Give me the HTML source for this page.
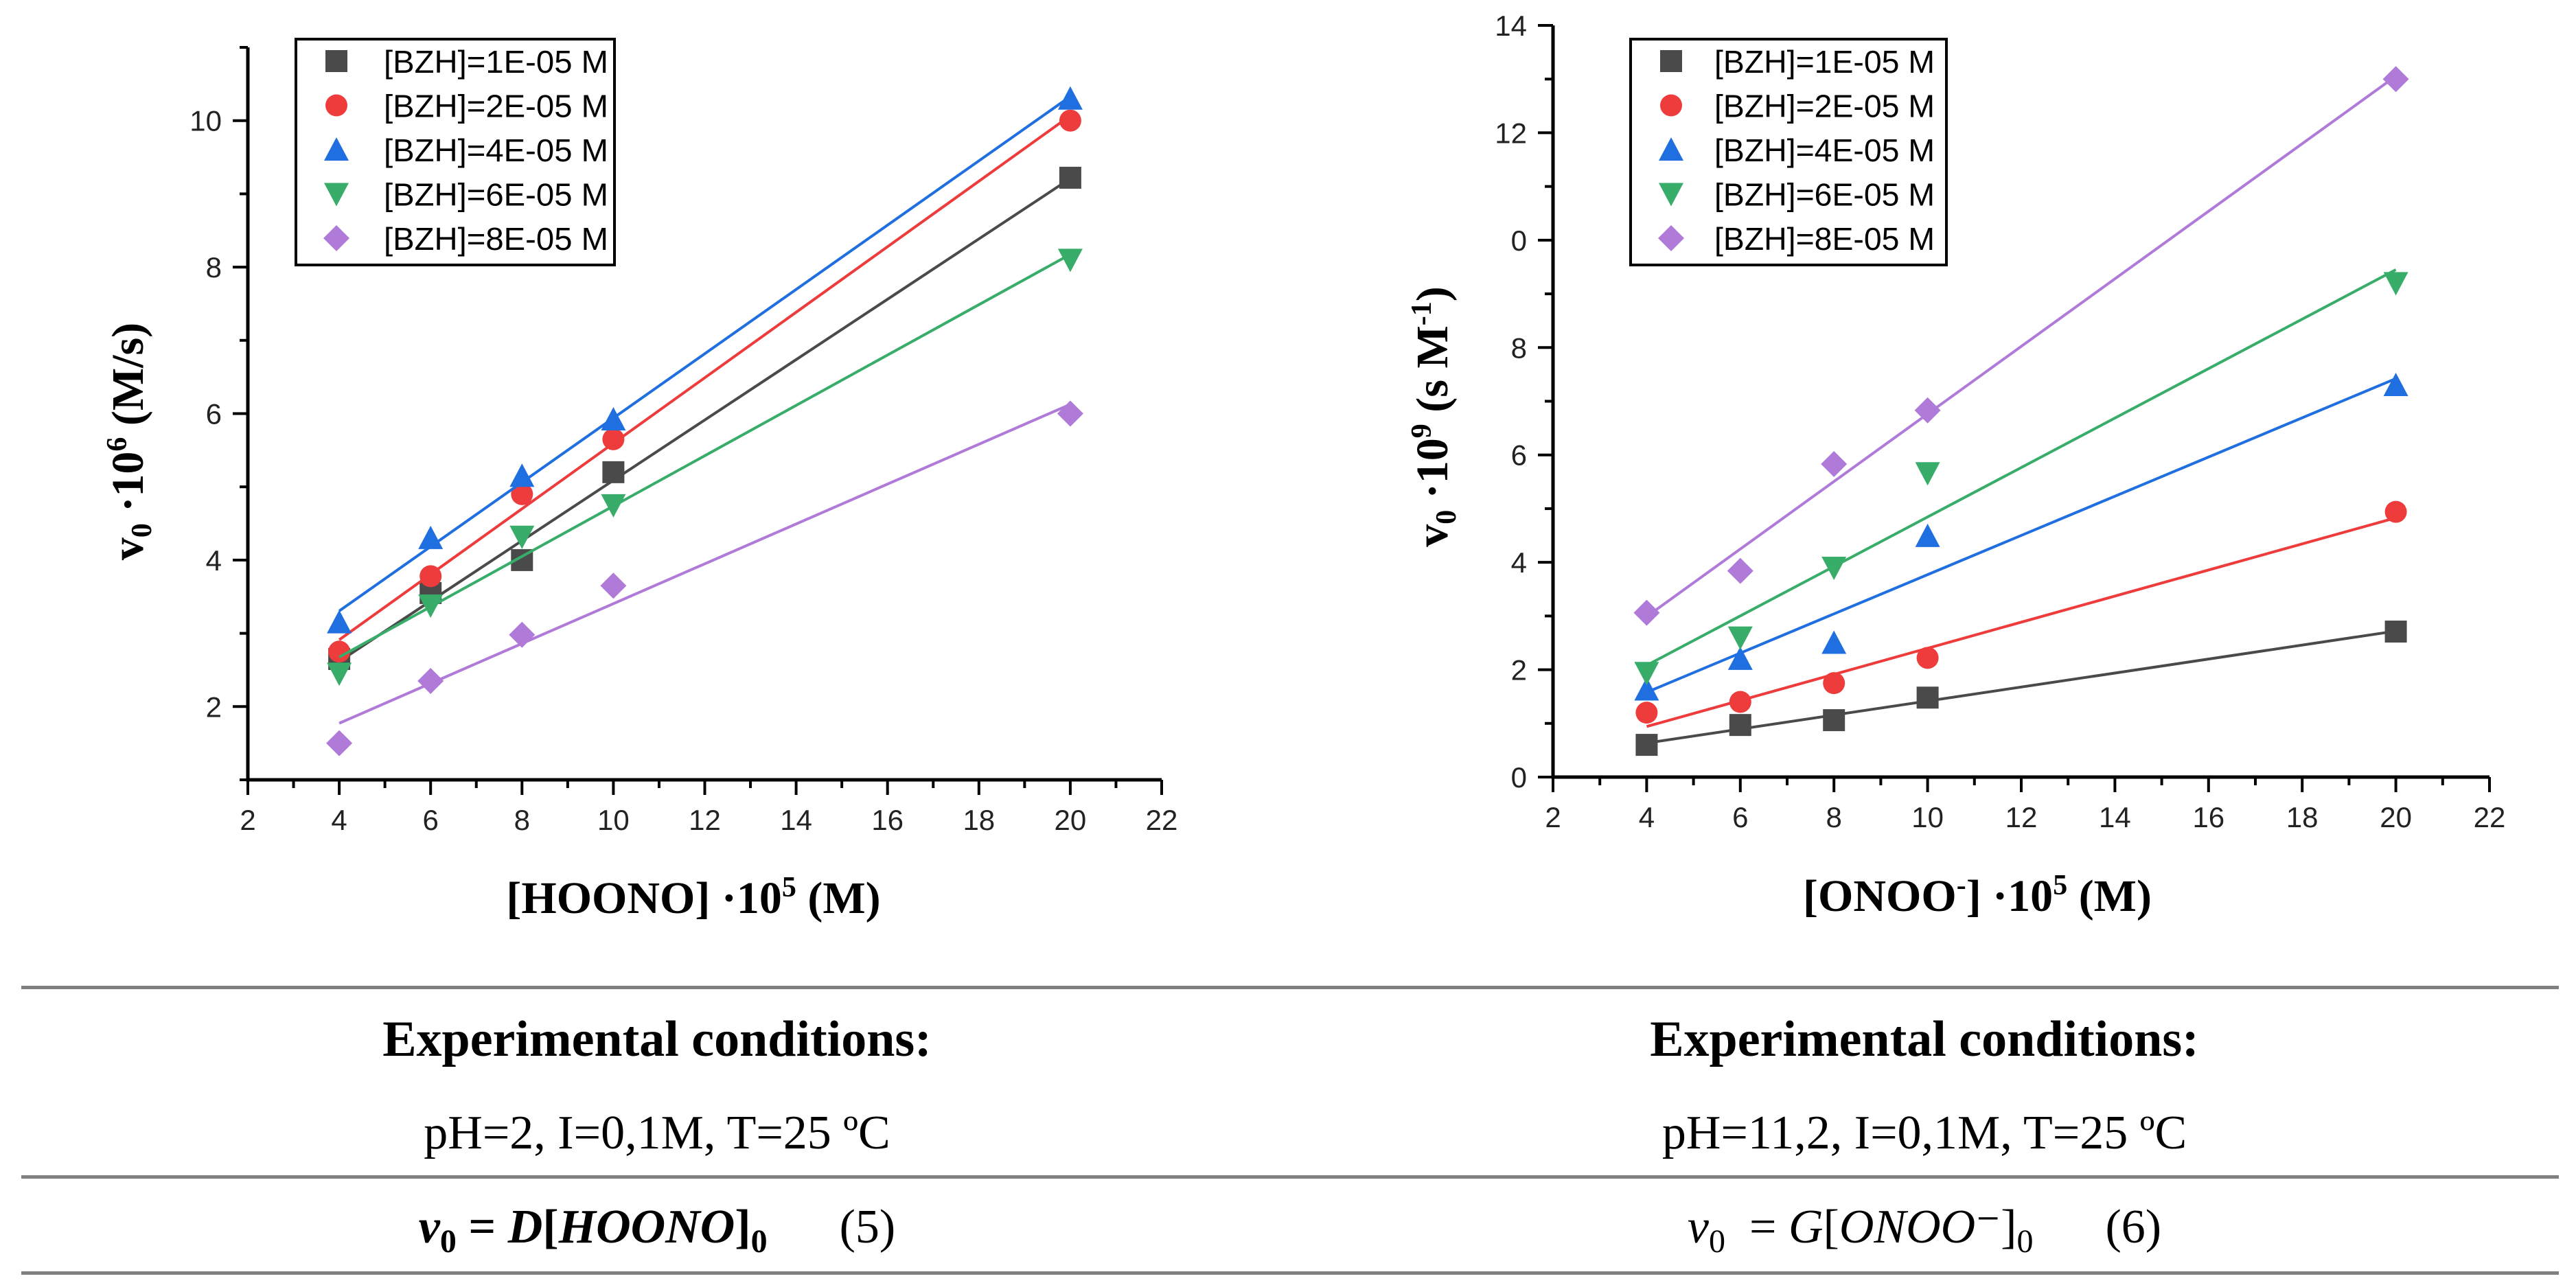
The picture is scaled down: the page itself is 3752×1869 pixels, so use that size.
<!DOCTYPE html>
<html><head><meta charset="utf-8"><style>
html,body{margin:0;padding:0;background:#fff;}
svg{display:block;}
.tick{font-family:"Liberation Sans",sans-serif;font-size:42px;fill:#222;}
.leg{font-family:"Liberation Sans",sans-serif;font-size:46px;fill:#000;}
.ttl{font-family:"Liberation Serif",serif;font-weight:bold;font-size:66px;fill:#000;}
.tab{font-family:"Liberation Serif",serif;fill:#000;}
.pre{white-space:pre;}
</style></head><body>
<svg id="fig" width="3752" height="1869" viewBox="0 0 3752 1869" xmlns="http://www.w3.org/2000/svg">
<g id="left"></g>
<g id="right"></g>
<g>
<rect x="31" y="1436" width="3696" height="5" fill="#808080"/>
<rect x="31" y="1712" width="3696" height="5" fill="#808080"/>
<rect x="31" y="1852" width="3696" height="5" fill="#808080"/>
<text class="tab" x="957" y="1538" font-size="74" font-weight="bold" text-anchor="middle">Experimental conditions:</text>
<text class="tab" x="2803" y="1538" font-size="74" font-weight="bold" text-anchor="middle">Experimental conditions:</text>
<text class="tab" x="957" y="1673" font-size="70" text-anchor="middle">pH=2, I=0,1M, T=25 ºC</text>
<text class="tab" x="2803" y="1673" font-size="70" text-anchor="middle">pH=11,2, I=0,1M, T=25 ºC</text>
<text class="tab pre" x="957" y="1810" font-size="70" text-anchor="middle"><tspan font-weight="bold" font-style="italic">v</tspan><tspan font-weight="bold" font-size="48" dy="14">0</tspan><tspan dy="-14" font-weight="bold"> = </tspan><tspan font-weight="bold" font-style="italic">D</tspan><tspan font-weight="bold">[</tspan><tspan font-weight="bold" font-style="italic">HOONO</tspan><tspan font-weight="bold">]</tspan><tspan font-weight="bold" font-size="48" dy="14">0</tspan><tspan dy="-14">      (5)</tspan></text>
<text class="tab pre" x="2803" y="1810" font-size="70" text-anchor="middle"><tspan font-style="italic">v</tspan><tspan font-size="48" dy="14">0</tspan><tspan dy="-14">  = </tspan><tspan font-style="italic">G</tspan><tspan>[</tspan><tspan font-style="italic">ONOO</tspan><tspan>⁻]</tspan><tspan font-size="48" dy="14">0</tspan><tspan dy="-14">      (6)</tspan></text>
</g>
</svg>
<script>
const xVals = [4, 6, 8, 10, 20];
const seriesNames = ["[BZH]=1E-05 M","[BZH]=2E-05 M","[BZH]=4E-05 M","[BZH]=6E-05 M","[BZH]=8E-05 M"];
const leftBlack  = [2.65, 3.55, 4.0, 5.2, 9.22];
const leftRed    = [2.75, 3.78, 4.9, 5.65, 10.0];
const leftBlue   = [3.15, 4.3, 5.15, 5.92, 10.3];
const leftGreen  = [2.45, 3.38, 4.32, 4.75, 8.1];
const leftPurple = [1.5, 2.35, 2.98, 3.65, 6.0];
const rightBlack  = [0.6, 0.97, 1.06, 1.48, 2.71];
const rightRed    = [1.2, 1.4, 1.75, 2.22, 4.94];
const rightBlue   = [1.63, 2.2, 2.5, 4.49, 7.3];
const rightGreen  = [1.94, 2.6, 3.9, 5.66, 9.2];
const rightPurple = [3.06, 3.84, 5.83, 6.83, 13.0];
const xTickLabels = ["2","4","6","8","10","12","14","16","18","20","22"];
const leftYTickLabels = ["2","4","6","8","10"];
const rightYTickLabels = ["0","2","4","6","8","0","12","14"];

const colors = ["#4a4a4a","#ee3b3b","#1f6fe0","#38ad69","#b07ad9"];
const shapes = ["square","circle","up","down","diamond"];
const NS = "http://www.w3.org/2000/svg";
function mk(tag, attrs, parent){const e=document.createElementNS(NS,tag);for(const k in attrs)e.setAttribute(k,attrs[k]);parent.appendChild(e);return e;}

function marker(parent, shape, cx, cy, color){
  let e; const s=16;
  if(shape==="square") e=mk("rect",{x:cx-s,y:cy-s,width:2*s,height:2*s,fill:color},parent);
  else if(shape==="circle") e=mk("circle",{cx:cx,cy:cy,r:s,fill:color},parent);
  else if(shape==="up") e=mk("polygon",{points:`${cx},${cy-s-2} ${cx+s+2},${cy+s} ${cx-s-2},${cy+s}`,fill:color},parent);
  else if(shape==="down") e=mk("polygon",{points:`${cx-s-2},${cy-s} ${cx+s+2},${cy-s} ${cx},${cy+s+2}`,fill:color},parent);
  else e=mk("polygon",{points:`${cx},${cy-s-3} ${cx+s+3},${cy} ${cx},${cy+s+3} ${cx-s-3},${cy}`,fill:color},parent);
  return e;
}
function fit(xs, ys){
  const n=xs.length, mx=xs.reduce((a,b)=>a+b)/n, my=ys.reduce((a,b)=>a+b)/n;
  let sxy=0,sxx=0; for(let i=0;i<n;i++){sxy+=(xs[i]-mx)*(ys[i]-my);sxx+=(xs[i]-mx)**2;}
  const m=sxy/sxx; return [m, my-m*mx];
}

function drawChart(cfg){
  const g=document.getElementById(cfg.id);
  const X=v=>cfg.x0+(v-cfg.xmin)/(cfg.xmax-cfg.xmin)*(cfg.x1-cfg.x0);
  const Y=v=>cfg.y0-(v-cfg.ymin)/(cfg.ymax-cfg.ymin)*(cfg.y0-cfg.y1);
  const ax=mk("path",{d:`M${cfg.x0},${cfg.y1} V${cfg.y0} H${cfg.x1}`,stroke:"#000","stroke-width":5,fill:"none"},g);
  
  
  for(let v=cfg.xmin; v<=cfg.xmax; v+=1){
    const major=(v-cfg.xmin)%2===0;
    const t=mk("line",{x1:X(v),x2:X(v),y1:cfg.y0,y2:cfg.y0+(major?22:12),stroke:"#000","stroke-width":4},g);
    
    
  }
  xTickLabels.forEach((lab,i)=>{
    const v=cfg.xmin+2*i;
    const t=mk("text",{x:X(v),y:cfg.y0+73,"text-anchor":"middle",class:"tick"},g);
    t.textContent=lab;
    
    
  });
  for(let v=Math.ceil(cfg.ymin); v<=cfg.ymax; v+=1){
    const major=(v-cfg.yLabelStart)%2===0;
    const t=mk("line",{x1:cfg.x0,x2:cfg.x0-(major?22:12),y1:Y(v),y2:Y(v),stroke:"#000","stroke-width":4},g);
    
    
  }
  cfg.yLabels.forEach((lab,i)=>{
    const v=cfg.yLabelStart+2*i;
    const t=mk("text",{x:cfg.x0-38,y:Y(v)+15,"text-anchor":"end",class:"tick"},g);
    t.textContent=lab;
    
    
  });
  cfg.series.forEach((ys,si)=>{
    const sg=mk("g",{},g);
    
    
    const [m,b]=fit(xVals,ys);
    const ln=mk("line",{x1:X(4),y1:Y(m*4+b),x2:X(20),y2:Y(m*20+b),stroke:colors[si],"stroke-width":4},sg);
    
    
    ys.forEach((y,i)=>{
      const p=marker(sg,shapes[si],X(xVals[i]),Y(y),colors[si]);
      
      
    });
  });
  const lg=mk("g",{},g);
  
  
  const box=mk("rect",{x:cfg.lx0,y:57,width:cfg.lx1-cfg.lx0,height:329,fill:"#fff",stroke:"#000","stroke-width":4},lg);
  
  
  seriesNames.forEach((nm,i)=>{
    const cy=89+i*64.5;
    const m=marker(lg,shapes[i],cfg.mx,cy,colors[i]);
    
    
    const t=mk("text",{x:cfg.tx,y:cy+17,class:"leg",textLength:cfg.tw,lengthAdjust:"spacingAndGlyphs"},lg);
    t.textContent=nm;
    
    
  });
  const xt=mk("text",{x:cfg.xtx,y:cfg.xty,"text-anchor":"middle",class:"ttl"},g);
  xt.innerHTML=cfg.xtitle;
  
  
  const yt=mk("text",{x:0,y:0,"text-anchor":"middle",class:"ttl",transform:`translate(${cfg.ytx},${cfg.yty}) rotate(-90)`},g);
  yt.innerHTML=cfg.ytitle;
  
  
}

drawChart({id:"left",x0:361,x1:1692,y0:1136,y1:69,xmin:2,xmax:22,ymin:1,ymax:11,yLabelStart:2,yLabels:leftYTickLabels,
  series:[leftBlack,leftRed,leftBlue,leftGreen,leftPurple],lx0:431,lx1:895,mx:490,tx:559,tw:327,
  xtx:1010,xty:1330,xtitle:'[HOONO] ·10<tspan font-size="42" dy="-24">5</tspan><tspan dy="24"> (M)</tspan>',
  ytx:208,yty:643,ytitle:'v<tspan font-size="42" dy="12">0</tspan><tspan dy="-12"> ·10</tspan><tspan font-size="42" dy="-24">6</tspan><tspan dy="24"> (M/s)</tspan>'});
drawChart({id:"right",x0:2262,x1:3626,y0:1132,y1:37,xmin:2,xmax:22,ymin:0,ymax:14,yLabelStart:0,yLabels:rightYTickLabels,
  series:[rightBlack,rightRed,rightBlue,rightGreen,rightPurple],lx0:2375,lx1:2835,mx:2434,tx:2497,tw:321,
  xtx:2880,xty:1327,xtitle:'[ONOO<tspan font-size="42" dy="-24">-</tspan><tspan dy="24">] ·10</tspan><tspan font-size="42" dy="-24">5</tspan><tspan dy="24"> (M)</tspan>',
  ytx:2108,yty:607,ytitle:'v<tspan font-size="42" dy="12">0</tspan><tspan dy="-12"> ·10</tspan><tspan font-size="42" dy="-24">9</tspan><tspan dy="24"> (s M</tspan><tspan font-size="42" dy="-24">-1</tspan><tspan dy="24">)</tspan>'});
</script>
</body></html>
